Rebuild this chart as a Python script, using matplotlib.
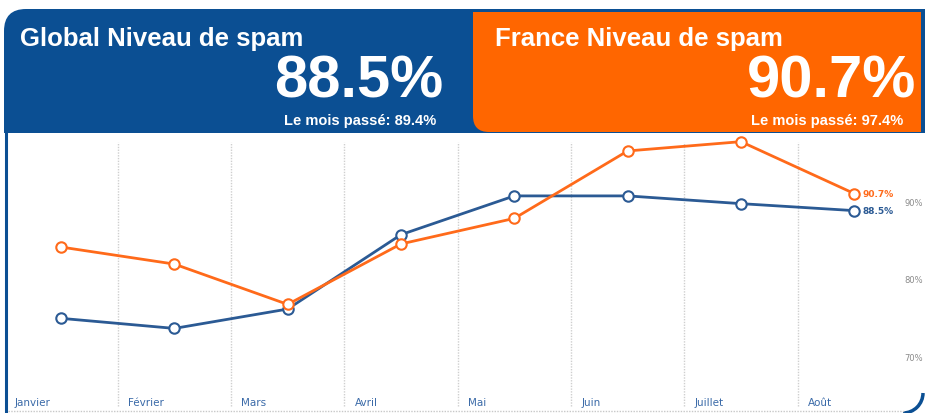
import matplotlib.pyplot as plt
from matplotlib.patches import FancyBboxPatch, Rectangle, Arc

months = ["Janvier", "Février", "Mars", "Avril", "Mai", "Juin", "Juillet", "Août"]
global_spam = [74.6, 73.3, 75.8, 85.4, 90.4, 90.4, 89.4, 88.5]
france_spam = [83.8, 81.6, 76.4, 84.2, 87.5, 96.2, 97.4, 90.7]
y_ticks = [70, 80, 90]

global_title = "Global Niveau de spam"
france_title = "France Niveau de spam"
global_now, global_prev = 88.5, 89.4
france_now, france_prev = 90.7, 97.4

BLUE = "#0b4f93"
LINE_BLUE = "#2b5a94"
ORANGE = "#ff6600"
LINE_ORANGE = "#ff6a1a"

fig = plt.figure(figsize=(9.25, 4.14), dpi=100)
fig.patch.set_facecolor("white")

# background layer in pixel coords (y downwards)
bg = fig.add_axes([0, 0, 1, 1])
bg.set_xlim(0, 925)
bg.set_ylim(414, 0)
bg.axis("off")

# blue header, rounded top-left only
bg.add_patch(FancyBboxPatch((4, 10), 921, 124, boxstyle="round,pad=0,rounding_size=22",
                            fc=BLUE, ec="none"))
bg.add_patch(Rectangle((40, 10), 885, 124, fc=BLUE, ec="none"))
bg.add_patch(Rectangle((4, 45), 921, 89, fc=BLUE, ec="none"))

# orange header, rounded bottom-left only
bg.add_patch(FancyBboxPatch((473, 13), 448, 120, boxstyle="round,pad=0,rounding_size=16",
                            fc=ORANGE, ec="none"))
bg.add_patch(Rectangle((473, 13), 448, 40, fc=ORANGE, ec="none"))
bg.add_patch(Rectangle((510, 13), 411, 120, fc=ORANGE, ec="none"))

# frame bits
bg.plot([5.5, 5.5], [133, 414], color=BLUE, lw=2.2, solid_capstyle="butt")
bg.plot([8, 905], [412, 412], color="#c8c8c8", lw=1, ls=(0, (1, 1)))
bg.add_patch(Arc((903, 394), 40, 40, theta1=0, theta2=90, color=BLUE, lw=2.5))

# header texts
bg.text(20, 46, global_title, color="white", fontsize=18.5, fontweight="bold",
        family="Liberation Sans")
bg.text(443, 98, f"{global_now}%", color="white", fontsize=43, fontweight="bold",
        ha="right", family="Liberation Sans")
bg.text(436, 125, f"Le mois passé: {global_prev}%", color="white", fontsize=10.5,
        fontweight="bold", ha="right", family="Liberation Sans")

bg.text(495, 46, france_title, color="white", fontsize=18.5, fontweight="bold",
        family="Liberation Sans")
bg.text(916, 98, f"{france_now}%", color="white", fontsize=43, fontweight="bold",
        ha="right", family="Liberation Sans")
bg.text(903, 125, f"Le mois passé: {france_prev}%", color="white", fontsize=10.5,
        fontweight="bold", ha="right", family="Liberation Sans")

# chart
ax = fig.add_axes([8 / 925, 4 / 414, 912 / 925, 273 / 414])
ax.set_facecolor("none")
ax.set_xlim(-0.468, 7.58)
ax.set_ylim(62.9, 98.13)
ax.axis("off")

x = list(range(len(months)))
for i in range(len(months) - 1):
    ax.plot([i + 0.5, i + 0.5], [63.3, 97.35], color="#cfcfcf", lw=1, ls=(0, (1, 1)))

ax.plot(x, global_spam, color=LINE_BLUE, lw=2, marker="o", ms=7.5, mfc="white",
        mec=LINE_BLUE, mew=1.5, zorder=3)
ax.plot(x, france_spam, color=LINE_ORANGE, lw=2, marker="o", ms=7.5, mfc="white",
        mec=LINE_ORANGE, mew=1.5, zorder=4)

ax.annotate(f"{global_spam[-1]}%", (x[-1], global_spam[-1]), xytext=(6, 0),
            textcoords="offset points", va="center", fontsize=6.5, fontweight="bold",
            color=LINE_BLUE)
ax.annotate(f"{france_spam[-1]}%", (x[-1], france_spam[-1]), xytext=(6, 0),
            textcoords="offset points", va="center", fontsize=6.5, fontweight="bold",
            color=LINE_ORANGE)

for i, m in enumerate(months):
    ax.text(i - 0.41, 63.4, m, color="#3a6aa8", fontsize=7.5, va="baseline")

for t in y_ticks:
    ax.text(7.44, t - 0.4, f"{t}%", color="#8a8a8a", fontsize=6, va="center")

fig.savefig("out.png", dpi=100)
